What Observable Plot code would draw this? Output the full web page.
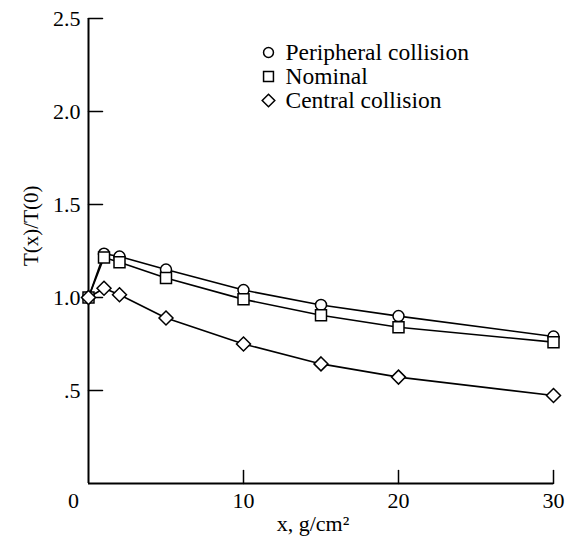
<!DOCTYPE html>
<html><head><meta charset="utf-8">
<script src="https://cdn.jsdelivr.net/npm/d3@7"></script>
<script src="https://cdn.jsdelivr.net/npm/@observablehq/plot@0.6"></script>
<style>
body{margin:0;background:#fff}
svg text{font-family:"Liberation Serif","Times New Roman",serif !important}
</style>
</head><body><div id="chart"></div>
<script>
// ---- data ----
const xValues = [0, 1, 2, 5, 10, 15, 20, 30];
const peripheral = [1.0, 1.235, 1.22, 1.15, 1.04, 0.96, 0.90, 0.79];
const nominal    = [1.0, 1.215, 1.19, 1.105, 0.99, 0.905, 0.84, 0.76];
const central    = [1.0, 1.05, 1.015, 0.89, 0.75, 0.643, 0.572, 0.473];
const seriesNames = ["Peripheral collision", "Nominal", "Central collision"];
const xTicks = [10, 20, 30];
const originTick = [0];
const yTicks = [0.5, 1, 1.5, 2, 2.5];
const yTickLabels = [".5", "1.0", "1.5", "2.0", "2.5"];
const xDomain = [0, 30];
const yDomain = [0, 2.5];
const xLabel = "x, g/cm²";
const yLabel = "T(x)/T(0)";

// ---- build table ----
const seriesValues = [peripheral, nominal, central];
const symbols = ["circle", "square", "diamond2"];
const radii = [5.5, 6.2, 6.3];
const table = seriesNames.flatMap((s, k) => xValues.map((x, i) => ({series: s, x, y: seriesValues[k][i]})));

const tickRight = {draw(ctx, l) { ctx.moveTo(0, 0); ctx.lineTo(0, -l); }};

const marks = [
  Plot.ruleX([xDomain[0]], {y1: yDomain[0], y2: yDomain[1], strokeWidth: 2}),
  Plot.ruleY([yDomain[0]], {x1: xDomain[0], x2: xDomain[1], strokeWidth: 2}),
  Plot.vector(yTicks, {x: xDomain[0], y: d => d, length: 14, rotate: 90, anchor: "start", shape: tickRight, strokeWidth: 1.5}),
  Plot.vector(xTicks, {x: d => d, y: yDomain[0], length: 13, rotate: 0, anchor: "start", shape: tickRight, strokeWidth: 1.5}),
  Plot.axisY({ticks: yTicks, tickSize: 0, tickPadding: 8, label: null, fontSize: 22, tickFormat: d => yTickLabels[yTicks.indexOf(d)]}),
  Plot.axisX({ticks: xTicks, tickSize: 0, tickPadding: 9, label: null, fontSize: 22}),
  Plot.axisX({ticks: originTick, tickSize: 0, tickPadding: 9, label: null, fontSize: 22, dx: -15}),
  Plot.text([xLabel], {frameAnchor: "bottom", dy: 40, dx: -8, lineAnchor: "middle", fontSize: 22}),
  Plot.text([yLabel], {frameAnchor: "left", rotate: -90, dx: -57, dy: 15, lineAnchor: "middle", fontSize: 21}),
  Plot.line(table, {x: "x", y: "y", z: "series", stroke: "black", strokeWidth: 1.6})
];
seriesNames.forEach((s, k) => {
  marks.push(Plot.dot(table.filter(d => d.series === s), {x: "x", y: "y", symbol: () => symbols[k], r: radii[k], stroke: "black", fill: "white", strokeWidth: 1.5}));
});
// legend
seriesNames.forEach((s, k) => {
  marks.push(Plot.dot([s], {frameAnchor: "top-left", dx: 180, dy: 34 + k * 24, symbol: () => symbols[k], r: radii[k] * 0.9, stroke: "black", fill: "white", strokeWidth: 1.5}));
  marks.push(Plot.text([s], {frameAnchor: "top-left", dx: 197, dy: 34 + k * 24, textAnchor: "start", lineAnchor: "middle", fontSize: 23.5}));
});

const chart = Plot.plot({
  width: 568, height: 548,
  marginLeft: 88, marginRight: 15, marginTop: 18, marginBottom: 65,
  x: {domain: xDomain},
  y: {domain: yDomain},
  symbol: {type: "identity"},
  style: {fontFamily: '"Liberation Serif", serif', fontSize: "22px", background: "white", color: "black"},
  marks
});
document.getElementById("chart").appendChild(chart);
</script>
</body></html>
